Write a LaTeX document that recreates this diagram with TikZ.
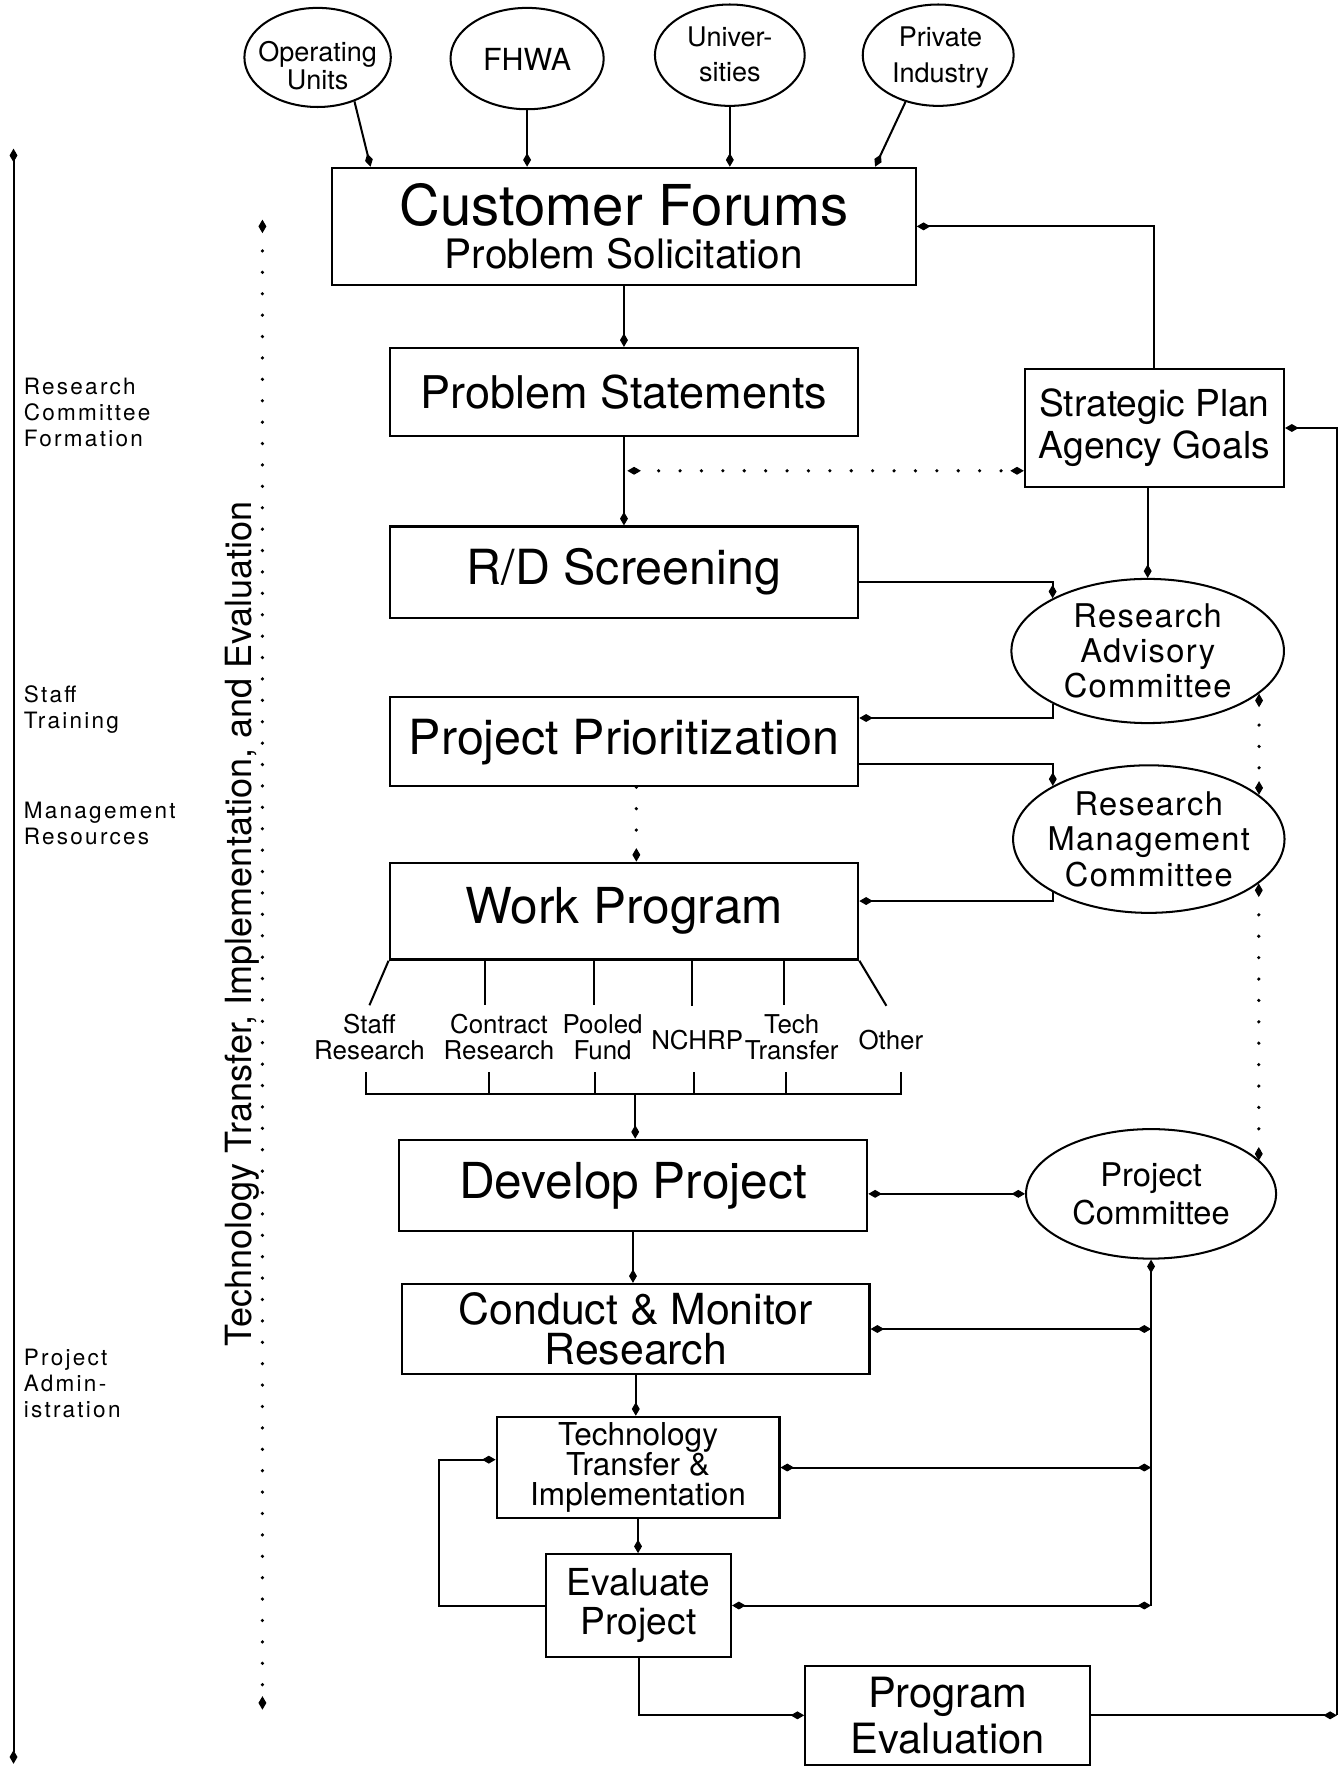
\documentclass[tikz,border=0pt]{standalone}
\usepackage{fontspec}
\setmainfont{TeX Gyre Heros}
\newfontfamily\spacedfont[LetterSpace=10]{TeX Gyre Heros}
\newfontfamily\lightspaced[LetterSpace=4]{TeX Gyre Heros}
\usetikzlibrary{arrows.meta,shapes.geometric,calc}
\lineskiplimit=-100pt
\tikzset{
  bx/.style={draw, rectangle, line width=2pt, inner sep=0pt, align=center},
  el/.style={draw, ellipse, line width=1.8pt, inner sep=0pt},
  txt/.style={inner sep=0pt, align=center},
  cn/.style={line width=1.8pt},
  arr/.style={cn, ->},
  arrb/.style={cn, <->},
  arrs/.style={cn, <-},
  dotl/.style={line width=3.2pt, line cap=round, dash pattern=on 0pt off 19pt},
}
\begin{document}
\begin{tikzpicture}[x=1pt,y=-1pt,>={Kite[length=12pt,width=7pt,inset=6pt,line width=1pt]}]
\fill[white] (0,0) rectangle (1188,1568);
\useasboundingbox (0,0) rectangle (1188,1568);

% top sources
\node[el, minimum width=130pt, minimum height=88pt] (ou) at (282,51) {};
\node[txt, font=\fontsize{24}{25}\selectfont] (out) at (282,58) {Operating\\Units};
\node[el, minimum width=136pt, minimum height=90pt] (fhwa) at (468,52) {};
\node[txt, font=\fontsize{27}{27}\selectfont] (fhwat) at (468,53) {FHWA};
\node[el, minimum width=133pt, minimum height=90pt] (univ) at (648,49) {};
\node[txt, font=\fontsize{24}{31}\selectfont] (univt) at (648,48) {Univer-\\sities};
\node[el, minimum width=134pt, minimum height=90pt] (priv) at (833,49) {};
\node[txt, font=\fontsize{24}{32.5}\selectfont] (privt) at (835,51) {Private\\Industry};

% main boxes
\node[bx, minimum width=518pt, minimum height=104pt, font=\fontsize{36}{38}\selectfont] (cf) at (554,201)
  {{\fontsize{50}{38}\selectfont Customer Forums}\\Problem Solicitation};
\node[bx, minimum width=416pt, minimum height=78pt, font=\fontsize{40}{40}\selectfont] (ps) at (554,348) {Problem Statements};
\node[bx, minimum width=230pt, minimum height=105pt, font=\fontsize{33}{37}\selectfont] (sp) at (1025,380) {Strategic Plan\\Agency Goals};
\node[bx, minimum width=416pt, minimum height=81pt, font=\fontsize{43}{43}\selectfont] (rd) at (554,508) {R/D Screening};
\node[el, minimum width=242pt, minimum height=128pt] (rac) at (1019,578) {};
\node[txt, font=\lightspaced\fontsize{29}{31}\selectfont] (ract) at (rac.center) {Research\\Advisory\\Committee};
\node[bx, minimum width=416pt, minimum height=79pt, font=\fontsize{43}{43}\selectfont] (pp) at (554,658.5) {Project Prioritization};
\node[el, minimum width=241pt, minimum height=131pt] (rmc) at (1020,745) {};
\node[txt, font=\lightspaced\fontsize{29}{31.5}\selectfont] (rmct) at (rmc.center) {Research\\Management\\Committee};
\node[bx, minimum width=416pt, minimum height=86pt, font=\fontsize{44}{44}\selectfont] (wp) at (554,809) {Work Program};

% branch labels
\node[txt, font=\fontsize{23}{23}\selectfont] (sr) at (328,921) {Staff\\Research};
\node[txt, font=\fontsize{23}{23}\selectfont] (cr) at (443,921) {Contract\\Research};
\node[txt, font=\fontsize{23}{23}\selectfont] (pf) at (535,921) {Pooled\\Fund};
\node[txt, font=\fontsize{23}{23}\selectfont] (nc) at (619,923) {NCHRP};
\node[txt, font=\fontsize{23}{23}\selectfont] (tr) at (703,921) {Tech\\Transfer};
\node[txt, font=\fontsize{23}{23}\selectfont] (ot) at (791,923) {Other};

\node[bx, minimum width=416pt, minimum height=81pt, font=\fontsize{44}{44}\selectfont] (dp) at (562,1052.5) {Develop Project};
\node[el, minimum width=222pt, minimum height=115pt] (pc) at (1022,1060) {};
\node[txt, font=\fontsize{29}{33}\selectfont] (pct) at (pc.center) {Project\\Committee};
\node[bx, minimum width=415pt, minimum height=80pt, font=\fontsize{38}{36}\selectfont] (cm) at (564.5,1180) {Conduct \& Monitor\\Research};
\node[bx, minimum width=251pt, minimum height=90pt, font=\fontsize{28}{26.5}\selectfont] (tt) at (566.5,1303) {Technology\\Transfer \&\\Implementation};
\node[bx, minimum width=164pt, minimum height=91pt, font=\fontsize{33}{35}\selectfont] (ep) at (567,1425.5) {Evaluate\\Project};
\node[bx, minimum width=253pt, minimum height=88pt, font=\fontsize{37}{41}\selectfont] (pe) at (841.5,1523) {Program\\Evaluation};

% left labels
\node[txt, anchor=west, align=left, font=\spacedfont\fontsize{20}{23}\selectfont] (lab1) at (21,366) {Research\\Committee\\Formation};
\node[txt, anchor=west, align=left, font=\spacedfont\fontsize{20}{23}\selectfont] (lab2) at (21,630) {Staff\\Training};
\node[txt, anchor=west, align=left, font=\spacedfont\fontsize{20}{23}\selectfont] (lab3) at (21,731) {Management\\Resources};
\node[txt, anchor=west, align=left, font=\spacedfont\fontsize{20}{23}\selectfont] (lab4) at (21,1228) {Project\\Admin-\\istration};
\node[txt, rotate=90, anchor=base, font=\fontsize{32}{32}\selectfont] (tti) at (223,820) {Technology Transfer, Implementation, and Evaluation};

% left arrows
\coordinate (lt) at (12,132);
\coordinate (lb) at (12,1566);
\draw[arrb] (lt) -- (lb);
\coordinate (dt) at (233,195);
\coordinate (db) at (233,1518);
\draw[dotl, <->] (dt) -- (db);

% sources to forums
\draw[arr] (ou.310) -- ([xshift=35pt]cf.north west);
\draw[arr] (fhwa.south) -- (fhwa.south |- cf.north);
\draw[arr] (univ.south) -- (univ.south |- cf.north);
\draw[arr] (priv.235) -- ([xshift=-37pt]cf.north east);

% main flow
\draw[arr] (cf.south) -- (cf.south |- ps.north);
\draw[arr] (sp.north) |- (cf.east);
\draw[arr] (ps.south) -- (ps.south |- rd.north);
\coordinate (j1) at (557,418);
\draw[dotl, <->] (j1) -- (j1 -| sp.west);
\draw[arr] (rac.north |- sp.south) -- (rac.north);
\draw[arr] ([yshift=-9pt]rd.east) -| (rac.151);
\draw[arr] (rac.209) |- ([yshift=21pt]pp.east);
\draw[arr] ([yshift=-20pt]pp.east) -| (rmc.151);
\draw[arr] (rmc.209) |- ([yshift=9pt]wp.east);
\draw[dotl, ->] ([xshift=11pt]pp.south) -- ([xshift=11pt]wp.north);
\draw[dotl, <->] (rac.339) -- (rac.339 |- rmc.22);
\draw[dotl, <->] (rmc.338) -- (rmc.338 |- pc.17);

% work program branches
\draw[cn] (wp.south west) -- ([yshift=8pt]sr.north);
\draw[cn] ([xshift=-12pt]cr.north |- wp.south) -- ([xshift=-12pt,yshift=8pt]cr.north);
\draw[cn] ([xshift=-8pt]pf.north |- wp.south) -- ([xshift=-8pt,yshift=8pt]pf.north);
\draw[cn] ([xshift=-4.5pt]nc.north |- wp.south) -- ([xshift=-4.5pt,yshift=21pt]nc.north);
\draw[cn] ([xshift=-7pt]tr.north |- wp.south) -- ([xshift=-7pt,yshift=8pt]tr.north);
\draw[cn] (wp.south east) -- ([xshift=-4pt,yshift=21pt]ot.north);

% bracket
\coordinate (bl) at (325,971);
\coordinate (br) at (800,971);
\draw[cn] (bl) ++(0,-19) -- (bl) -- (br) -- ++(0,-19);
\draw[cn] ([xshift=-9pt]cr.south |- bl) -- ++(0,-19);
\draw[cn] ([xshift=-6.5pt]pf.south |- bl) -- ++(0,-19);
\draw[cn] ([xshift=-2.6pt]nc.south |- bl) -- ++(0,-19);
\draw[cn] ([xshift=-5pt]tr.south |- bl) -- ++(0,-19);
\coordinate (bm) at (564,971);
\draw[arr] (bm) -- (bm |- dp.north);

% project phase
\draw[arrb] (dp.east |- pc.west) -- (pc.west);
\draw[arr] (dp.south) -- (dp.south |- cm.north);
\coordinate (vb) at (pc.south |- ep.east);
\draw[arrs] (pc.south) -- (vb);
\draw[arrb] (cm.east) -- (cm.east -| vb);
\draw[arrb] (tt.east) -- (tt.east -| vb);
\draw[arrb] (ep.east) -- (vb);
\draw[arr] (cm.south) -- (cm.south |- tt.north);
\draw[arr] (tt.south) -- (tt.south |- ep.north);
\coordinate (lp) at (390,1425.5);
\draw[arr] (ep.west) -- (lp) |- ([yshift=7pt]tt.west);
\draw[arr] (ep.south) |- (pe.west);
\coordinate (rc) at (1187,1523);
\draw[arr] (pe.east) -- (rc);
\draw[arr] (rc) |- (sp.east);
\end{tikzpicture}
\end{document}
